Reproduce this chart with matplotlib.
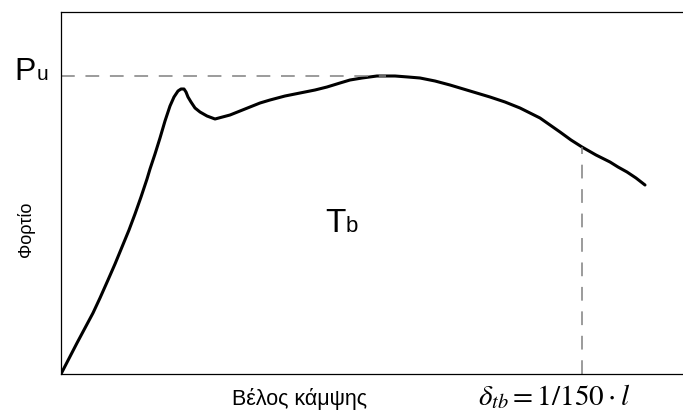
#!/usr/bin/env python3
import matplotlib
matplotlib.use('Agg')
import matplotlib.pyplot as plt

# load-deflection curve (schematic units)
deflection = [0, 16, 32, 39, 47, 54, 61, 68, 74, 80, 86, 89, 94, 99, 104, 109, 113, 117, 120, 123,
              125, 127, 130, 134, 139, 146, 154, 169, 179, 189, 199, 209, 224, 239, 254, 266, 279,
              289, 301, 316, 334, 347, 359, 374, 389, 409, 429, 444, 459, 469, 479, 489, 499, 510,
              521, 535, 549, 557, 566, 575, 584]
load = [0, 31, 61, 76, 94, 110, 127, 144, 160, 177, 195, 205, 220, 236, 253, 268, 277, 283, 285, 285,
        282, 277, 272, 266, 262, 258, 255, 259, 263, 267, 271, 274, 278, 281, 284, 287, 291,
        294, 296, 298, 298, 297, 296, 293, 289, 283, 277, 272, 266, 261, 256, 249, 242, 234,
        227, 219, 212, 207, 202, 196, 189]

p_u = 298          # peak load
x_peak = 325       # deflection at peak
delta_tb = 521     # deflection limit l/150
load_tb = 227      # load at the limit

W, H = 683, 416
plt.rcParams['font.family'] = ['Liberation Sans', 'DejaVu Sans']
plt.rcParams['mathtext.fontset'] = 'stix'

fig = plt.figure(figsize=(W / 100, H / 100), dpi=100)
ax = fig.add_axes([61 / W, (H - 374) / H, (W - 61) / W, (374 - 12) / H])

ax.plot(deflection, load, color='black', lw=2.2, solid_joinstyle='round', solid_capstyle='round')
ax.plot([0, x_peak], [p_u, p_u], color='#808080', lw=1.1, linestyle=(0, (9, 7)))
ax.plot([delta_tb, delta_tb], [0, load_tb], color='#808080', lw=1.1, linestyle=(0, (9, 7)))

ax.set_xlim(0, W - 61)
ax.set_ylim(0, 362)
ax.set_xticks([])
ax.set_yticks([])
ax.spines['right'].set_visible(False)
for s in ['left', 'bottom', 'top']:
    ax.spines[s].set_linewidth(0.9)


def px(x, y):
    return x / W, 1 - y / H


fig.text(*px(14, 80), 'P', fontsize=23, va='baseline', ha='left')
fig.text(*px(37, 80), 'u', fontsize=15, va='baseline', ha='left')
fig.text(*px(325, 232), 'T', fontsize=24, va='baseline', ha='left')
fig.text(*px(346, 232), 'b', fontsize=16, va='baseline', ha='left')
fig.text(*px(26, 229), 'Φορτίο', fontsize=13, rotation=90, va='center', ha='center')
fig.text(*px(232, 405), 'Βέλος κάμψης', fontsize=15.5, va='baseline', ha='left')
fig.text(*px(478, 405), r'$\delta_{tb}=1/150\cdot l$', fontsize=21, va='baseline', ha='left')

fig.savefig('out.png', dpi=100)
